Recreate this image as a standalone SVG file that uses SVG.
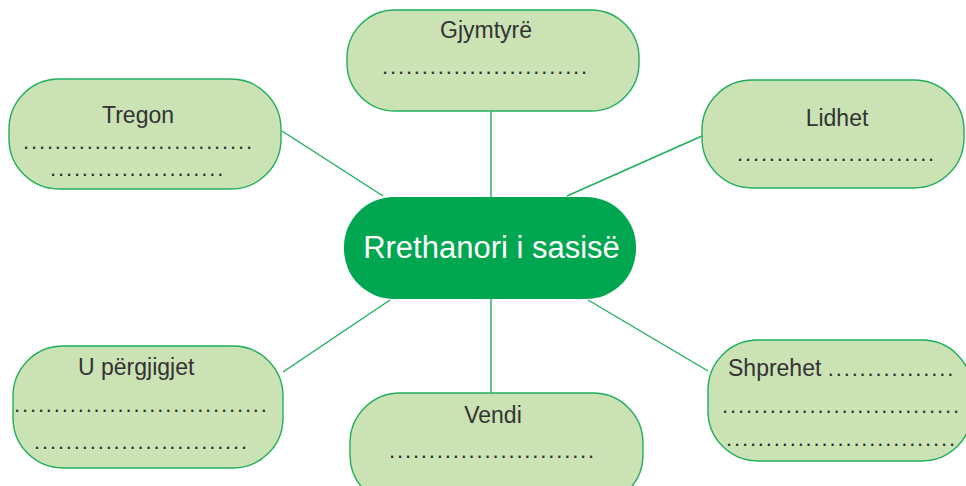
<svg xmlns="http://www.w3.org/2000/svg" width="966" height="486" viewBox="0 0 966 486">
<style>
.box{fill:#cae2b4;stroke:#1fae5c;stroke-width:1.4}
.center{fill:#00a650}
.lbl{font-family:"Liberation Sans",Arial,sans-serif;font-size:23px;fill:#333333}
.dots{font-family:"Liberation Sans",Arial,sans-serif;font-size:22px;fill:#2e2e2e;letter-spacing:1.85px}
.ctext{font-family:"Liberation Sans",Arial,sans-serif;font-size:31px;fill:#ffffff;text-anchor:middle}
.mid{text-anchor:middle}
.conn line{stroke:#1fae5c;stroke-width:1.4}
</style>
<rect width="966" height="486" fill="#ffffff"/>
<g id="connectors" class="conn">
<line x1="491" y1="111" x2="491" y2="198"/>
<line x1="282" y1="131" x2="383" y2="196"/>
<line x1="702" y1="136" x2="567" y2="196"/>
<line x1="283" y1="372" x2="390" y2="300"/>
<line x1="491" y1="298" x2="491" y2="393"/>
<line x1="588" y1="300" x2="708" y2="371"/>
</g>
<g id="node-center">
<rect class="center" x="344" y="197" width="292" height="102" rx="50"/>
<text class="ctext" x="491.5" y="258">Rrethanori i sasisë</text>
</g>
<g id="node-gjymtyre">
<rect class="box" x="347" y="10" width="292" height="101" rx="48"/>
<text class="lbl mid" x="486" y="38">Gjymtyrë</text>
<text class="dots" x="382" y="74">..........................</text>
</g>
<g id="node-tregon">
<rect class="box" x="9" y="79" width="272" height="110" rx="50"/>
<text class="lbl mid" x="138" y="123">Tregon</text>
<text class="dots" x="23" y="149">.............................</text>
<text class="dots" x="50" y="176">......................</text>
</g>
<g id="node-lidhet">
<rect class="box" x="702" y="80" width="262" height="108" rx="50"/>
<text class="lbl mid" x="837" y="126">Lidhet</text>
<text class="dots" x="737" y="161">.........................</text>
</g>
<g id="node-pergjigjet">
<rect class="box" x="13" y="346" width="270" height="122" rx="50"/>
<text class="lbl" x="78" y="375">U përgjigjet</text>
<text class="dots" x="14" y="412">................................</text>
<text class="dots" x="34" y="449">...........................</text>
</g>
<g id="node-vendi">
<rect class="box" x="350" y="393" width="293" height="112" rx="50"/>
<text class="lbl mid" x="493" y="423">Vendi</text>
<text class="dots" x="389" y="458">..........................</text>
</g>
<g id="node-shprehet">
<rect class="box" x="708" y="340" width="264" height="121" rx="50"/>
<text class="lbl" x="728" y="376">Shprehet <tspan class="dots">................</tspan></text>
<text class="dots" x="722" y="413">..............................</text>
<text class="dots" x="726" y="446">.............................</text>
</g>
</svg>
